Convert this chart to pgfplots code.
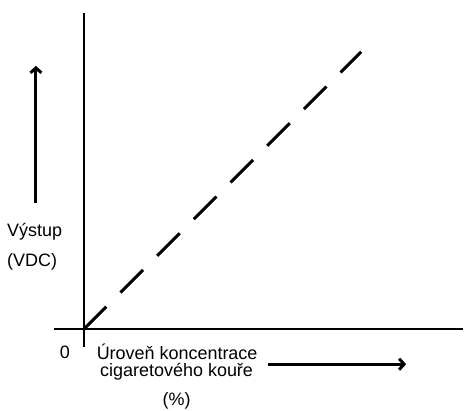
\documentclass[border=0pt]{standalone}
\usepackage{pgfplots}
\pgfplotsset{compat=1.18}
\usetikzlibrary{arrows.meta}
\usepackage{fontspec}
\setmainfont{Liberation Sans}
\begin{document}
\begin{tikzpicture}
\begin{axis}[
  scale only axis, width=464bp, height=411bp,
  xmin=-84, xmax=380, ymin=-81, ymax=330,
  hide axis, clip=false,
  font=\fontsize{18bp}{20bp}\selectfont,
]
\path (axis cs:-84,-81) rectangle (axis cs:380,330);
% axes
\draw[line width=2bp] (axis cs:-30,0) -- (axis cs:380,0);
\draw[line width=2bp] (axis cs:0,-18) -- (axis cs:0,317);
% data
\addplot[black, line width=3bp, dash pattern=on 32bp off 20bp] coordinates {(0,0) (278,278)};
% arrows
\draw[line width=3bp, -{Straight Barb[length=5bp,width=11bp]}] (axis cs:-48,127) -- (axis cs:-48,264);
\draw[line width=3bp, -{Straight Barb[length=5bp,width=11bp]}] (axis cs:185,-35) -- (axis cs:323,-35);
% labels
\node[anchor=west, inner sep=0pt] at (axis cs:-77,98) {Výstup};
\node[anchor=west, inner sep=0pt] at (axis cs:-77,68) {(VDC)};
\node[inner sep=0pt] at (axis cs:-19,-23) {0};
\node[inner sep=0pt] at (axis cs:93.5,-23) {Úroveň koncentrace};
\node[inner sep=0pt] at (axis cs:93,-43) {cigaretového kouře};
\node[inner sep=0pt] at (axis cs:93,-72) {(\%)};
\end{axis}
\end{tikzpicture}
\end{document}
